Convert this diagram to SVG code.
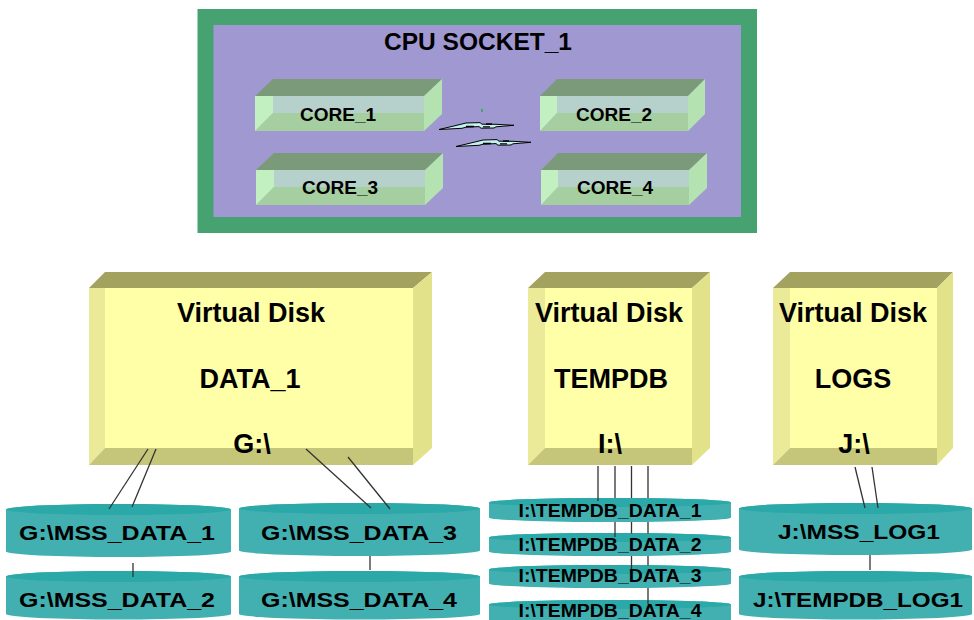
<svg xmlns="http://www.w3.org/2000/svg" width="974" height="620" viewBox="0 0 974 620">
<style>
.tb{font-family:"Liberation Sans",Arial,sans-serif;font-weight:bold;text-anchor:middle;fill:#000}
.tr{font-family:"Liberation Sans",Arial,sans-serif;font-weight:bold;text-anchor:middle;fill:#000}
.ctop{fill:#7A9A7A}.cright{fill:#B4E2B0}.cleft{fill:#C2F0C0}.cup{fill:#B6D0CC}.clow{fill:#A5CFA0}
.dtop{fill:#A3A35F}.dright{fill:#E2E28A}.dleft{fill:#EAEA98}.dmain{fill:#FFFFA8}.dbot{fill:#C6C67A}
.cylb{fill:#42B0B0}.cylt{fill:#2BA8A8}
.conn{stroke:#333;stroke-width:1.3;fill:none}
.bolt{fill:#C4F2F0;stroke:#000;stroke-width:1;stroke-linejoin:miter}
</style>
<rect width="974" height="620" fill="#fff"/>

<g id="cpu_socket">
<rect x="205.5" y="17" width="543.5" height="208" fill="#A098D0" stroke="#46A270" stroke-width="16"/>
<text class="tb" x="478" y="50" font-size="24" textLength="188" lengthAdjust="spacingAndGlyphs">CPU SOCKET_1</text>
<rect x="481" y="109" width="2" height="3" fill="#40A868"/>
</g>

<g id="core_1">
<polygon class="ctop" points="255,96 273,79 442,79 424,96"/>
<polygon class="cright" points="424,96 442,79 442,114 424,131"/>
<rect class="cup" x="273" y="96" width="151" height="17"/>
<polygon class="clow" points="255,131 273,113 424,113 424,131"/>
<polygon class="cleft" points="255,96 273,96 273,113 255,131"/>
<text class="tb" x="338" y="120.5" font-size="19">CORE_1</text>
</g>
<g id="core_2">
<polygon class="ctop" points="540,96 557,79 705,79 688,96"/>
<polygon class="cright" points="688,96 705,79 705,114 688,131"/>
<rect class="cup" x="557" y="96" width="131" height="17"/>
<polygon class="clow" points="540,131 557,113 688,113 688,131"/>
<polygon class="cleft" points="540,96 557,96 557,113 540,131"/>
<text class="tb" x="614" y="120.5" font-size="19">CORE_2</text>
</g>
<g id="core_3">
<polygon class="ctop" points="256,170 274,153 443,153 425,170"/>
<polygon class="cright" points="425,170 443,153 443,188 425,205"/>
<rect class="cup" x="274" y="170" width="151" height="17"/>
<polygon class="clow" points="256,205 274,187 425,187 425,205"/>
<polygon class="cleft" points="256,170 274,170 274,187 256,205"/>
<text class="tb" x="340" y="194" font-size="19">CORE_3</text>
</g>
<g id="core_4">
<polygon class="ctop" points="541,170 558,153 707,153 689,170"/>
<polygon class="cright" points="689,170 707,153 707,188 689,205"/>
<rect class="cup" x="558" y="170" width="131" height="17"/>
<polygon class="clow" points="541,205 558,187 689,187 689,205"/>
<polygon class="cleft" points="541,170 558,170 558,187 541,205"/>
<text class="tb" x="615" y="194" font-size="19">CORE_4</text>
</g>

<g id="bolts">
<polygon class="bolt" points="439,129.5 458,125 466,123 480,122.6 482,124.2 496,124.3 514,125.3 496,126.8 494,128 481,128.2 479,126.6 466,127.2 462,128.3"/>
<path d="M466,126.5 H474 M483,126.8 H490 M486,124 H492" stroke="#000" stroke-width="1.3"/>
<g transform="translate(17,17)">
<polygon class="bolt" points="439,129.5 458,125 466,123 480,122.6 482,124.2 496,124.3 514,125.3 496,126.8 494,128 481,128.2 479,126.6 466,127.2 462,128.3"/>
<path d="M466,126.5 H474 M483,126.8 H490 M486,124 H492" stroke="#000" stroke-width="1.3"/>
</g>
</g>

<g id="vdisk_data1">
<polygon class="dtop" points="89,288 105,272 432,272 413,288"/>
<polygon class="dright" points="413,288 432,272 432,448 413,465"/>
<rect class="dmain" x="105" y="288" width="308" height="160"/>
<polygon class="dleft" points="89,288 105,288 105,448 89,465"/>
<polygon class="dbot" points="89,465 105,448 413,448 413,465"/>
<text class="tb" x="251" y="322" font-size="27">Virtual Disk</text>
<text class="tb" x="250" y="388" font-size="27">DATA_1</text>
<text class="tb" x="252" y="453" font-size="27">G:\</text>
</g>
<g id="vdisk_tempdb">
<polygon class="dtop" points="528,288 545,272 710,272 692,288"/>
<polygon class="dright" points="692,288 710,272 710,448 692,465"/>
<rect class="dmain" x="545" y="288" width="147" height="160"/>
<polygon class="dleft" points="528,288 545,288 545,448 528,465"/>
<polygon class="dbot" points="528,465 545,448 692,448 692,465"/>
<text class="tb" x="609" y="322" font-size="27">Virtual Disk</text>
<text class="tb" x="611" y="388" font-size="27">TEMPDB</text>
<text class="tb" x="610" y="453" font-size="27">I:\</text>
</g>
<g id="vdisk_logs">
<polygon class="dtop" points="773,288 790,272 953,272 937,288"/>
<polygon class="dright" points="937,288 953,272 953,448 937,465"/>
<rect class="dmain" x="790" y="288" width="147" height="160"/>
<polygon class="dleft" points="773,288 790,288 790,448 773,465"/>
<polygon class="dbot" points="773,465 790,448 937,448 937,465"/>
<text class="tb" x="853" y="322" font-size="27">Virtual Disk</text>
<text class="tb" x="853" y="388" font-size="27">LOGS</text>
<text class="tb" x="854" y="453" font-size="27">J:\</text>
</g>

<g id="g_mss_data_1">
<path class="cylb" d="M6,509.5 A112.5,5.5 0 0 1 231,509.5 V551.5 A112.5,5.5 0 0 1 6,551.5 Z"/>
<ellipse class="cylt" cx="118.5" cy="509.5" rx="112.5" ry="5.5"/>
<text class="tr" x="117" y="540" font-size="21" textLength="196" lengthAdjust="spacingAndGlyphs">G:\MSS_DATA_1</text>
</g>
<g id="g_mss_data_2">
<path class="cylb" d="M6,576.5 A112.5,5.5 0 0 1 231,576.5 V614 A112.5,5.5 0 0 1 6,614 Z"/>
<ellipse class="cylt" cx="118.5" cy="576.5" rx="112.5" ry="5.5"/>
<text class="tr" x="117" y="607" font-size="21" textLength="196" lengthAdjust="spacingAndGlyphs">G:\MSS_DATA_2</text>
</g>
<g id="g_mss_data_3">
<path class="cylb" d="M239,508.5 A120.5,5.5 0 0 1 480,508.5 V550.5 A120.5,5.5 0 0 1 239,550.5 Z"/>
<ellipse class="cylt" cx="359.5" cy="508.5" rx="120.5" ry="5.5"/>
<text class="tr" x="359" y="540" font-size="21" textLength="196" lengthAdjust="spacingAndGlyphs">G:\MSS_DATA_3</text>
</g>
<g id="g_mss_data_4">
<path class="cylb" d="M239,576.5 A120.5,5.5 0 0 1 480,576.5 V614 A120.5,5.5 0 0 1 239,614 Z"/>
<ellipse class="cylt" cx="359.5" cy="576.5" rx="120.5" ry="5.5"/>
<text class="tr" x="359" y="607" font-size="21" textLength="196" lengthAdjust="spacingAndGlyphs">G:\MSS_DATA_4</text>
</g>

<g id="i_tempdb_data_1">
<path class="cylb" d="M489,502.5 A121,4.5 0 0 1 731,502.5 V517.5 A121,4.5 0 0 1 489,517.5 Z"/>
<ellipse class="cylt" cx="610" cy="502.5" rx="121" ry="4.5"/>
<text class="tb" x="610" y="517" font-size="19" textLength="183" lengthAdjust="spacingAndGlyphs">I:\TEMPDB_DATA_1</text>
</g>
<g id="i_tempdb_data_2">
<path class="cylb" d="M489,537.5 A121,4.5 0 0 1 731,537.5 V551.5 A121,4.5 0 0 1 489,551.5 Z"/>
<ellipse class="cylt" cx="610" cy="537.5" rx="121" ry="4.5"/>
<text class="tb" x="610" y="551" font-size="19" textLength="183" lengthAdjust="spacingAndGlyphs">I:\TEMPDB_DATA_2</text>
</g>
<g id="i_tempdb_data_3">
<path class="cylb" d="M489,569.5 A121,4.5 0 0 1 731,569.5 V583.5 A121,4.5 0 0 1 489,583.5 Z"/>
<ellipse class="cylt" cx="610" cy="569.5" rx="121" ry="4.5"/>
<text class="tb" x="610" y="582" font-size="19" textLength="183" lengthAdjust="spacingAndGlyphs">I:\TEMPDB_DATA_3</text>
</g>
<g id="i_tempdb_data_4">
<path class="cylb" d="M489,604.5 A121,4.5 0 0 1 731,604.5 V620 H489 Z"/>
<ellipse class="cylt" cx="610" cy="604.5" rx="121" ry="4.5"/>
<text class="tb" x="610" y="617" font-size="19" textLength="183" lengthAdjust="spacingAndGlyphs">I:\TEMPDB_DATA_4</text>
</g>

<g id="j_mss_log1">
<path class="cylb" d="M739,508.5 A116.5,5.5 0 0 1 972,508.5 V549.5 A116.5,5.5 0 0 1 739,549.5 Z"/>
<ellipse class="cylt" cx="855.5" cy="508.5" rx="116.5" ry="5.5"/>
<text class="tr" x="859" y="539" font-size="21" textLength="162" lengthAdjust="spacingAndGlyphs">J:\MSS_LOG1</text>
</g>
<g id="j_tempdb_log1">
<path class="cylb" d="M739,576.5 A116.5,5.5 0 0 1 972,576.5 V614 A116.5,5.5 0 0 1 739,614 Z"/>
<ellipse class="cylt" cx="855.5" cy="576.5" rx="116.5" ry="5.5"/>
<text class="tr" x="858" y="607" font-size="21" textLength="210" lengthAdjust="spacingAndGlyphs">J:\TEMPDB_LOG1</text>
</g>

<g id="connectors">
<path class="conn" d="M148,449 L109,509"/>
<path class="conn" d="M156,449 L132,507"/>
<path class="conn" d="M306,449 L371,508"/>
<path class="conn" d="M348,457 L390,509"/>
<path class="conn" d="M133,563 V577"/>
<path class="conn" d="M370,556 V570"/>
<path class="conn" d="M598,466 V501"/>
<path class="conn" d="M615,466 V498 M615,522 V537"/>
<path class="conn" d="M631.5,466 V498 M631.5,522 V533.5 M631.5,556 V569"/>
<path class="conn" d="M648,466 V498 M648,522 V533.5 M648,556 V565.5 M648,588 V604"/>
<path class="conn" d="M855,467 L865,508"/>
<path class="conn" d="M872,467 L878,508"/>
<path class="conn" d="M870,555 V570"/>
</g>
</svg>
